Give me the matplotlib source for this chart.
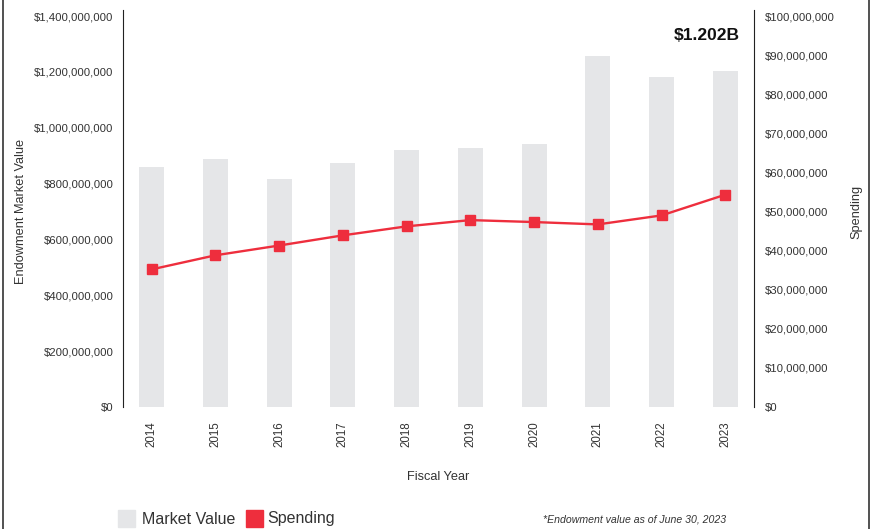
import matplotlib
matplotlib.use("Agg")
import matplotlib.pyplot as plt
from matplotlib.lines import Line2D
from matplotlib.patches import Rectangle
from matplotlib.ticker import FuncFormatter

plt.rcParams['font.family'] = ['Liberation Sans', 'DejaVu Sans']

years = ["2014", "2015", "2016", "2017", "2018", "2019", "2020", "2021", "2022", "2023"]
market_value = [861e6, 889e6, 818e6, 875e6, 921e6, 929e6, 943e6, 1257e6, 1182e6, 1202e6]
spending = [35.2e6, 38.8e6, 41.3e6, 43.9e6, 46.2e6, 47.8e6, 47.3e6, 46.7e6, 49.0e6, 54.3e6]
left_ticks = [0, 200e6, 400e6, 600e6, 800e6, 1000e6, 1200e6, 1400e6]
right_ticks = [i * 10e6 for i in range(11)]

W, H = 875, 529
fig = plt.figure(figsize=(W / 100, H / 100), dpi=100)
ax = fig.add_axes([123 / W, 1 - 407 / H, (754 - 123) / W, (407 - 16) / H])
ax2 = ax.twinx()

gray = "#e5e6e8"
red = "#ee2e3d"
txt = "#333333"

x = list(range(len(years)))
ax.bar(x, market_value, width=0.39, color=gray, zorder=1)
ax.set_ylim(0, 1400e6)
ax.set_xlim(-0.45, 9.45)
ax.set_yticks(left_ticks)
ax.yaxis.set_major_formatter(FuncFormatter(lambda v, p: "${:,.0f}".format(v)))
ax.set_xticks(x)
ax.set_xticklabels(years, rotation=90, fontsize=8.3, color=txt)
ax.tick_params(axis='y', labelsize=8.2, labelcolor=txt, length=0, pad=7)
ax.tick_params(axis='x', length=0, pad=10)
ax.set_ylabel("Endowment Market Value", fontsize=9.2, color=txt)
ax.yaxis.set_label_coords(-0.152, 0.5)
ax.set_xlabel("Fiscal Year", fontsize=9.2, color=txt)
ax.xaxis.set_label_coords(0.499, -0.164)

ax2.plot(x, spending, color=red, lw=1.7, marker='s', markersize=7.5, zorder=3)
ax2.set_ylim(0, 100e6)
ax2.set_yticks(right_ticks)
ax2.yaxis.set_major_formatter(FuncFormatter(lambda v, p: "${:,.0f}".format(v)))
ax2.tick_params(axis='y', labelsize=8.2, labelcolor=txt, length=0, pad=8)
ax2.set_ylabel("Spending", fontsize=9.2, color=txt)
ax2.yaxis.set_label_coords(1.152, 0.5)

for a in (ax, ax2):
    a.spines['top'].set_visible(False)
    a.spines['bottom'].set_visible(False)
ax.spines['right'].set_visible(False)
ax2.spines['left'].set_visible(False)
ax.spines['left'].set_color("#222222")
ax2.spines['right'].set_color("#222222")
ax.spines['left'].set_bounds(0, 1400e6 * 1.015)
ax2.spines['right'].set_bounds(0, 100e6 * 1.015)
ax.set_zorder(0)
ax2.set_zorder(1)

fig.text(740 / W, 1 - 36 / H, "$1.202B", fontsize=12.5, fontweight='bold',
         ha='right', va='center', color="#111111")

# legend
fig.patches.append(Rectangle((118 / W, 1 - 527 / H), 17 / W, 17 / H,
                             transform=fig.transFigure, color=gray))
fig.text(142 / W, 1 - 519 / H, "Market Value", fontsize=11.5, va='center', color=txt)
fig.patches.append(Rectangle((246 / W, 1 - 527 / H), 17 / W, 17 / H,
                             transform=fig.transFigure, color=red))
fig.text(267 / W, 1 - 519 / H, "Spending", fontsize=11.5, va='center', color=txt)
fig.text(726 / W, 1 - 520 / H, "*Endowment value as of June 30, 2023", fontsize=7.6,
         style='italic', ha='right', va='center', color=txt)

# page frame lines
fig.add_artist(Line2D([2.5 / W, 2.5 / W], [0, 1], transform=fig.transFigure, color="#333333", lw=1.2))
fig.add_artist(Line2D([868.5 / W, 868.5 / W], [0, 1], transform=fig.transFigure, color="#333333", lw=1.2))

fig.savefig("out.png", dpi=100)
